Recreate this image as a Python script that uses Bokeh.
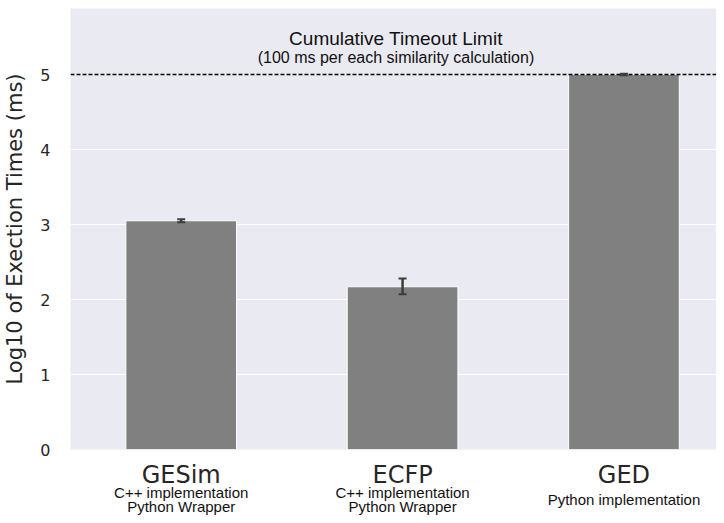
from bokeh.plotting import figure
from bokeh.models import ColumnDataSource, Whisker, Span, Label, FixedTicker, Range1d
from bokeh.layouts import column
from bokeh.core.properties import value
from bokeh.embed import file_html
from bokeh.resources import INLINE

methods = ["GESim", "ECFP", "GED"]
sub1 = ["C++ implementation", "C++ implementation", "Python implementation"]
sub2 = ["Python Wrapper", "Python Wrapper", ""]
values = [3.05, 2.17, 5.0]
err_low = [3.03, 2.07, 4.99]
err_high = [3.07, 2.28, 5.01]
timeout_limit = 5.0
y_ticks = [0, 1, 2, 3, 4, 5]

xs = list(range(len(methods)))
src = ColumnDataSource(dict(x=xs, top=values, lower=err_low, upper=err_high))

xr = Range1d(-0.5, 2.418)
p = figure(width=716, height=459, output_backend="svg", toolbar_location=None,
           x_range=xr, y_range=Range1d(0, 5.88),
           min_border_left=10, min_border_right=0, min_border_top=8, min_border_bottom=10)
p.background_fill_color = "#EAEAF2"
p.border_fill_color = "white"
p.outline_line_color = None

p.vbar(x="x", top="top", width=0.5, bottom=0, source=src, fill_color="#808080",
       line_color="white", line_width=1)
w = Whisker(base="x", lower="lower", upper="upper", source=src, line_color="#3d3d3d",
            line_width=2.5, level="overlay")
for h in (w.upper_head, w.lower_head):
    h.size = 8
    h.line_color = "#3d3d3d"
    h.line_width = 2
p.add_layout(w)

p.add_layout(Span(location=timeout_limit, dimension="width", line_color="black",
                  line_dash="4 2", line_width=1.3))
p.add_layout(Label(x=0.97, y=5.48, text="Cumulative Timeout Limit", text_align="center",
                   text_baseline="middle", text_font="Liberation Sans", text_font_size="19px",
                   text_color="#111111"))
p.add_layout(Label(x=0.97, y=5.225, text="(100 ms per each similarity calculation)",
                   text_align="center", text_baseline="middle", text_font="Liberation Sans",
                   text_font_size="16px", text_color="#111111"))

p.xgrid.grid_line_color = None
p.ygrid.grid_line_color = "white"
p.ygrid.grid_line_width = 1.2
p.ygrid.ticker = FixedTicker(ticks=y_ticks)

p.yaxis.ticker = FixedTicker(ticks=y_ticks)
p.yaxis.axis_line_color = None
p.yaxis.major_tick_line_color = None
p.yaxis.minor_tick_line_color = None
p.yaxis.major_label_text_font = "DejaVu Sans"
p.yaxis.major_label_text_font_size = "16px"
p.yaxis.major_label_text_color = "#262626"
p.yaxis.major_label_standoff = 14
p.yaxis.axis_label = "Log10 of Exection Times (ms)"
p.yaxis.axis_label_text_font = "DejaVu Sans"
p.yaxis.axis_label_text_font_style = "normal"
p.yaxis.axis_label_text_font_size = "21px"
p.yaxis.axis_label_text_color = "#262626"
p.yaxis.axis_label_standoff = 10
p.xaxis.visible = False

# category label strip below the chart, sharing the bar x range (frames are aligned)
q = figure(width=716, height=56, output_backend="svg", toolbar_location=None,
           x_range=xr, y_range=Range1d(56, 0),
           min_border_left=0, min_border_right=0, min_border_top=0, min_border_bottom=0)
q.background_fill_color = "white"
q.border_fill_color = "white"
q.outline_line_color = None
q.axis.visible = False
q.grid.visible = False

name_src = ColumnDataSource(dict(x=xs, y=[15] * len(xs), t=methods))
q.text(x="x", y="y", text="t", source=name_src, text_align="center",
       text_baseline="middle", text_font=value("DejaVu Sans"), text_font_size="24px",
       text_color="#262626")
sx, sy, st = [], [], []
for i in xs:
    if sub2[i]:
        sx += [i, i]; sy += [33, 47]; st += [sub1[i], sub2[i]]
    else:
        sx += [i]; sy += [40]; st += [sub1[i]]
sub_src = ColumnDataSource(dict(x=sx, y=sy, t=st))
q.text(x="x", y="y", text="t", source=sub_src, text_align="center",
       text_baseline="middle", text_font=value("Liberation Sans"), text_font_size="15px",
       text_color="#111111")

open("out.html", "w").write(file_html(column(p, q, spacing=0), INLINE))
